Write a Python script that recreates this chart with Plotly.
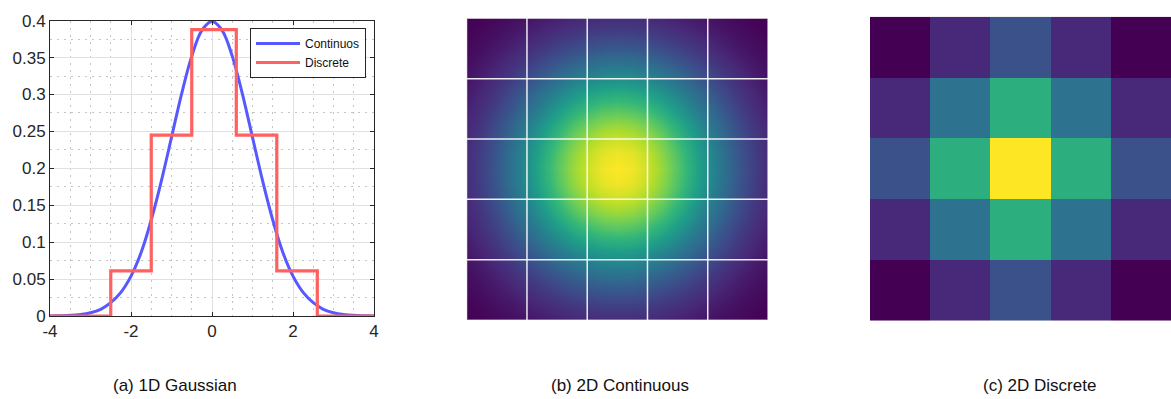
import numpy as np
import plotly.graph_objects as go

W, H = 1171, 399

# ---- 1D Gaussian: smooth density samples and the binned (discrete) version ----
curve_x = [-4.0, -3.75, -3.5, -3.25, -3.0, -2.75, -2.5, -2.25, -2.0, -1.75, -1.5,
           -1.25, -1.0, -0.75, -0.5, -0.25, 0.0, 0.25, 0.5, 0.75, 1.0, 1.25, 1.5,
           1.75, 2.0, 2.25, 2.5, 2.75, 3.0, 3.25, 3.5, 3.75, 4.0]
curve_y = [0.0001, 0.0004, 0.0009, 0.002, 0.0044, 0.009, 0.018, 0.032, 0.054,
           0.086, 0.130, 0.183, 0.242, 0.301, 0.352, 0.387, 0.399, 0.387, 0.352,
           0.301, 0.242, 0.183, 0.130, 0.086, 0.054, 0.032, 0.018, 0.009, 0.0044,
           0.002, 0.0009, 0.0004, 0.0001]

step_edges = [-4.0, -2.5, -1.5, -0.5, 0.6, 1.6, 2.6, 4.0]
step_heights = [0.0, 0.061, 0.245, 0.388, 0.245, 0.061, 0.0]

x_tick_vals = [-4, -2, 0, 2, 4]
x_tick_text = ["-4", "-2", "0", "2", "4"]

# ---- 2D continuous Gaussian: separable radial profile across the image ----
profile_pos = [-2.5, -2.25, -2.0, -1.75, -1.5, -1.25, -1.0, -0.75, -0.5, -0.25, 0.0,
               0.25, 0.5, 0.75, 1.0, 1.25, 1.5, 1.75, 2.0, 2.25, 2.5]
profile_val = [0.150, 0.215, 0.296, 0.394, 0.505, 0.622, 0.738, 0.843, 0.927, 0.981, 1.0,
               0.981, 0.927, 0.843, 0.738, 0.622, 0.505, 0.394, 0.296, 0.215, 0.150]
cell_borders = [-1.5, -0.5, 0.5, 1.5]

# ---- 2D discrete kernel (5x5) ----
kernel = [
    [0.000, 0.111, 0.250, 0.111, 0.000],
    [0.111, 0.376, 0.627, 0.376, 0.111],
    [0.250, 0.627, 1.000, 0.627, 0.250],
    [0.111, 0.376, 0.627, 0.376, 0.111],
    [0.000, 0.111, 0.250, 0.111, 0.000],
]
kernel_pos = [-2, -1, 0, 1, 2]

captions = ["(a) 1D Gaussian", "(b) 2D Continuous", "(c) 2D Discrete"]
caption_px = [175, 620, 1039]

FONT = "Liberation Sans, Arial, Helvetica, sans-serif"


def px_x(a, b):
    return [a / W, b / W]


def px_y(top, bottom):
    return [1 - bottom / H, 1 - top / H]


fig = go.Figure()

# Left panel traces
fig.add_trace(go.Scatter(
    x=curve_x, y=curve_y, mode="lines", name="Continuos",
    line=dict(color="rgb(88,88,255)", width=3, shape="spline"),
    xaxis="x", yaxis="y",
))
fig.add_trace(go.Scatter(
    x=step_edges, y=step_heights + [step_heights[-1]], mode="lines", name="Discrete",
    line=dict(color="rgb(255,96,96)", width=3.2, shape="hv"),
    xaxis="x", yaxis="y",
))

# Middle panel: smooth 2D Gaussian
z_cont = np.outer(profile_val, profile_val)
fig.add_trace(go.Heatmap(
    x=profile_pos, y=profile_pos, z=z_cont, colorscale="Viridis",
    zmin=float(z_cont.min()), zmax=float(z_cont.max()),
    zsmooth="best", showscale=False, hoverinfo="skip",
    xaxis="x2", yaxis="y2",
))

# Right panel: discrete 5x5 kernel
fig.add_trace(go.Heatmap(
    x=kernel_pos, y=kernel_pos, z=kernel, colorscale="Viridis",
    zmin=0, zmax=1, showscale=False, hoverinfo="skip",
    xaxis="x3", yaxis="y3",
))

# White cell-border grid drawn over the continuous image
grid_style = dict(color="rgba(255,255,255,0.9)", width=1.5)
for b in cell_borders:
    fig.add_shape(type="line", xref="x2", yref="y2 domain", x0=b, x1=b, y0=0, y1=1,
                  line=grid_style, layer="above")
    fig.add_shape(type="line", xref="x2 domain", yref="y2", x0=0, x1=1, y0=b, y1=b,
                  line=grid_style, layer="above")
fig.add_shape(type="rect", xref="x2 domain", yref="y2 domain", x0=0, x1=1, y0=0, y1=1,
              line=dict(color="rgba(255,255,255,0.45)", width=1.5), layer="above")

axis_line = "#262626"
minor_grid = dict(showgrid=True, griddash="2px,5px", gridcolor="#c4c4c4",
                  gridwidth=1, ticks="")
fig.update_layout(
    width=W, height=H,
    margin=dict(l=0, r=0, t=0, b=0, autoexpand=False),
    paper_bgcolor="white", plot_bgcolor="white",
    font=dict(family=FONT, color="#262626", size=17),
    showlegend=True,
    legend=dict(
        x=366 / W, y=1 - 28 / H, xanchor="right", yanchor="top",
        bgcolor="white", bordercolor=axis_line, borderwidth=1,
        font=dict(family=FONT, size=12, color="#111111"),
        tracegroupgap=0, itemwidth=44,
    ),
    xaxis=dict(
        domain=px_x(50, 374), range=[-4, 4], automargin=False,
        tickvals=x_tick_vals, ticktext=x_tick_text,
        ticks="inside", ticklen=4, tickcolor=axis_line,
        showline=True, linecolor=axis_line, linewidth=1, mirror="allticks",
        showgrid=True, gridcolor="#e0e0e0", gridwidth=1, zeroline=False,
        minor=dict(dtick=0.5, **minor_grid),
        tickfont=dict(size=17, color="#262626"),
    ),
    yaxis=dict(
        domain=px_y(20.7, 316), range=[0, 0.4], dtick=0.05, automargin=False,
        ticks="inside", ticklen=4, tickcolor=axis_line,
        showline=True, linecolor=axis_line, linewidth=1, mirror="allticks",
        showgrid=True, gridcolor="#e0e0e0", gridwidth=1, zeroline=False,
        minor=dict(dtick=0.025, **minor_grid),
        tickfont=dict(size=17, color="#262626"),
    ),
    xaxis2=dict(
        domain=px_x(466.7, 768), range=[-2.5, 2.5], anchor="y2", automargin=False,
        showticklabels=False, ticks="", showgrid=False, zeroline=False,
    ),
    yaxis2=dict(
        domain=px_y(18.3, 320), range=[-2.5, 2.5], anchor="x2", automargin=False,
        showticklabels=False, ticks="", showgrid=False, zeroline=False,
    ),
    xaxis3=dict(
        domain=px_x(870, 1171), range=[-2.5, 2.5], anchor="y3", automargin=False,
        showticklabels=False, ticks="", showgrid=False, zeroline=False,
    ),
    yaxis3=dict(
        domain=px_y(16.7, 320.7), range=[-2.5, 2.5], anchor="x3", automargin=False,
        showticklabels=False, ticks="", showgrid=False, zeroline=False,
    ),
)

for text, cx in zip(captions, caption_px):
    fig.add_annotation(
        text=text, x=cx / W, y=1 - 385 / H, xref="paper", yref="paper",
        xanchor="center", yanchor="middle", showarrow=False,
        font=dict(family=FONT, size=17, color="#111111"),
    )

fig.write_html("out.html")
